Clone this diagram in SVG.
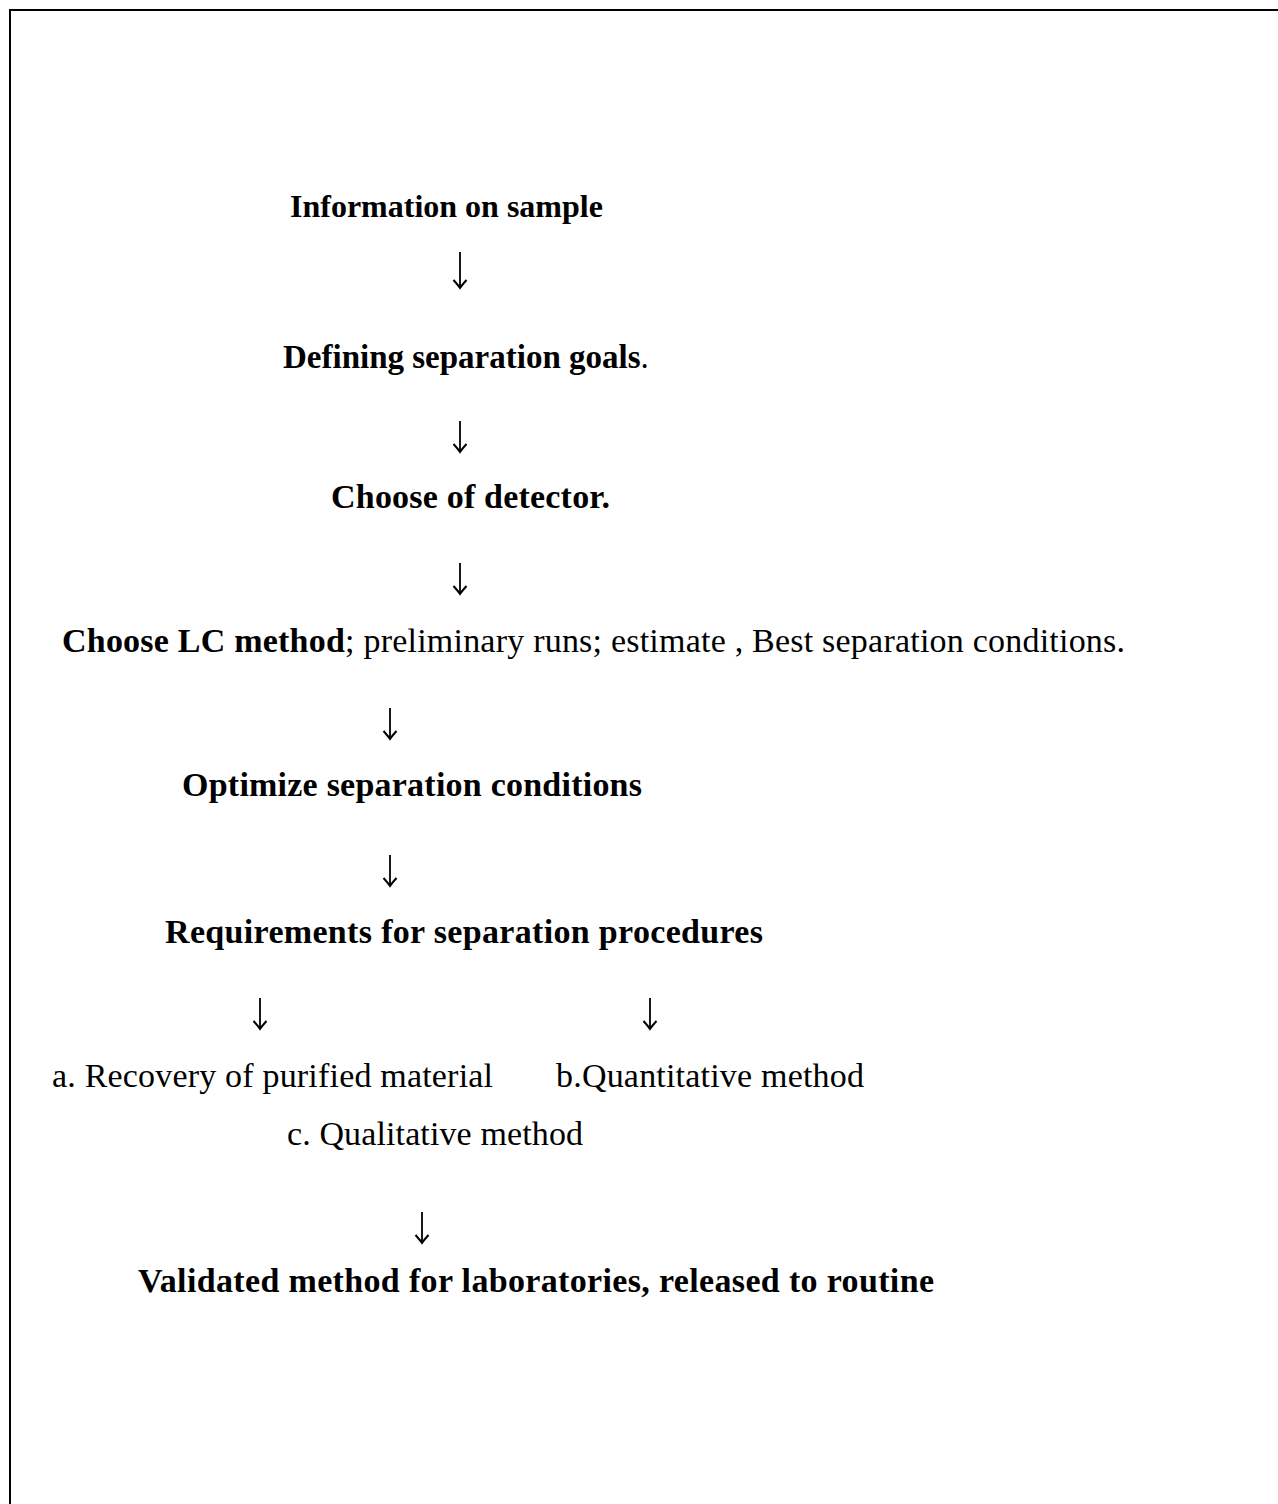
<svg xmlns="http://www.w3.org/2000/svg" width="1278" height="1504" viewBox="0 0 1278 1504">
<style>
text{font-family:"Liberation Serif","Times New Roman",serif;font-size:34px;fill:#000}
.b{font-weight:bold}
.arrow{stroke:#000;stroke-width:1.8;fill:none}
</style>
<defs>
<marker id="ah" viewBox="-10 -8 12 16" refX="0" refY="0" markerWidth="12" markerHeight="16" markerUnits="userSpaceOnUse" orient="auto">
<path d="M-8,-6.5 Q-3,-2 0,0 Q-3,2 -8,6.5" stroke="#000" stroke-width="2" fill="none" stroke-linejoin="miter"/>
</marker>
</defs>
<rect width="1278" height="1504" fill="#fff"/>
<path d="M10,1504 L10,10 L1278,10" stroke="#000" stroke-width="2" fill="none"/>
<g id="n1"><text x="290" y="217" class="b" style="font-size:32px">Information on sample</text></g>
<g id="n2"><text x="283" y="368" style="font-size:33px"><tspan class="b">Defining separation goals</tspan>.</text></g>
<g id="n3"><text x="331" y="508" class="b" textLength="279">Choose of detector.</text></g>
<g id="n4"><text x="62" y="652" textLength="1063"><tspan class="b">Choose LC method</tspan>; preliminary runs; estimate , Best separation conditions.</text></g>
<g id="n5"><text x="182" y="796" class="b" textLength="460">Optimize separation conditions</text></g>
<g id="n6"><text x="165" y="943" class="b" textLength="598">Requirements for separation procedures</text></g>
<g id="n7a"><text x="52" y="1087" textLength="441">a. Recovery of purified material</text></g>
<g id="n7b"><text x="556" y="1087" textLength="308">b.Quantitative method</text></g>
<g id="n7c"><text x="287" y="1145" textLength="296">c. Qualitative method</text></g>
<g id="n8"><text x="138" y="1292" class="b" textLength="796">Validated method for laboratories, released to routine</text></g>
<g id="connectors">
<line class="arrow" x1="460" y1="252" x2="460" y2="288" marker-end="url(#ah)"/>
<line class="arrow" x1="460" y1="421" x2="460" y2="452" marker-end="url(#ah)"/>
<line class="arrow" x1="460" y1="563" x2="460" y2="594" marker-end="url(#ah)"/>
<line class="arrow" x1="390" y1="708" x2="390" y2="739" marker-end="url(#ah)"/>
<line class="arrow" x1="390" y1="855" x2="390" y2="886" marker-end="url(#ah)"/>
<line class="arrow" x1="260" y1="998" x2="260" y2="1029" marker-end="url(#ah)"/>
<line class="arrow" x1="650" y1="998" x2="650" y2="1029" marker-end="url(#ah)"/>
<line class="arrow" x1="422" y1="1212" x2="422" y2="1243" marker-end="url(#ah)"/>
</g>
</svg>
